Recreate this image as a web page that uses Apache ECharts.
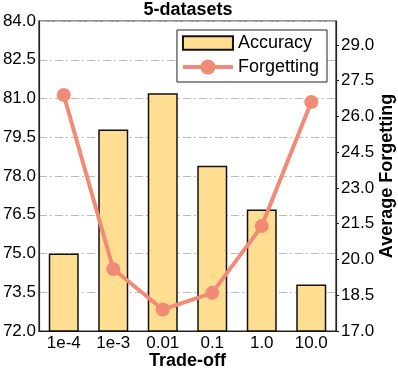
<!DOCTYPE html>
<html>
<head>
<meta charset="utf-8">
<script src="https://cdn.jsdelivr.net/npm/echarts@6/dist/echarts.min.js"></script>
<style>
  html, body { margin: 0; padding: 0; background: #fff; }
  #chart { width: 398px; height: 370px; }
</style>
</head>
<body>
<div id="chart"></div>
<script>
var categories = ['1e-4', '1e-3', '0.01', '0.1', '1.0', '10.0'];
var accuracy = [75.0, 79.8, 81.2, 78.4, 76.7, 73.8];
var forgetting = [26.9, 19.6, 17.9, 18.6, 21.4, 26.6];
var rightTicks = [17.0, 18.5, 20.0, 21.5, 23.0, 24.5, 26.0, 27.5, 29.0];

var font = 'Liberation Sans, Arial, sans-serif';

var option = {
	backgroundColor: '#fff',
	animation: false,
	title: {
		text: '5-datasets',
		left: 188,
		top: 1,
		textAlign: 'center',
		padding: 0,
		textStyle: { fontFamily: font, fontSize: 18, fontWeight: 'bold', color: '#000' },
	},
	legend: {
		orient: 'vertical',
		right: 71,
		top: 30,
		padding: [4, 8, 6, 4],
		itemGap: 6,
		itemWidth: 50,
		itemHeight: 19,
		borderColor: '#222',
		borderWidth: 1,
		borderRadius: 0,
		backgroundColor: '#fff',
		lineStyle: { width: 4 },
		textStyle: { fontFamily: font, fontSize: 18, color: '#000' },
		data: [
			{ name: 'Accuracy', icon: 'path://M0,0H48V13H0Z' },
			{ name: 'Forgetting' },
		],
	},
	grid: {
		left: 39,
		right: 62,
		top: 21,
		bottom: 39,
		outerBoundsMode: 'none',
		show: true,
		borderColor: '#222',
		borderWidth: 1.2,
		backgroundColor: 'transparent',
	},
	xAxis: {
		type: 'category',
		data: categories,
		name: 'Trade-off',
		nameLocation: 'middle',
		nameMoveOverlap: false,
		nameGap: 21,
		nameTextStyle: { fontFamily: font, fontSize: 18, fontWeight: 'bold', color: '#000' },
		axisLine: { lineStyle: { color: '#222', width: 1.2 } },
		axisTick: { show: false },
		axisLabel: { fontFamily: font, fontSize: 17, color: '#000', margin: 4 },
	},
	yAxis: [{
			type: 'value',
			min: 72,
			max: 84,
			interval: 1.5,
			axisLine: { show: true, lineStyle: { color: '#222', width: 1.2 } },
			axisTick: { show: false },
			axisLabel: {
				fontFamily: font, fontSize: 17, color: '#000', margin: 3,
				formatter: function (v) { return v.toFixed(1); },
			},
			splitLine: {
				show: true,
				lineStyle: { color: '#bdbdbd', width: 1, type: [8, 3, 2, 3] },
			},
		},
		{
			type: 'value',
			min: 17,
			max: 30,
			position: 'right',
			name: 'Average Forgetting',
			nameLocation: 'middle',
			nameMoveOverlap: false,
			nameRotate: 90,
			nameGap: 42,
			nameTextStyle: { fontFamily: font, fontSize: 18, fontWeight: 'bold', color: '#000' },
			axisLine: { show: true, lineStyle: { color: '#222', width: 1.2 } },
			axisTick: { show: true, length: 3, customValues: rightTicks, lineStyle: { color: '#222' } },
			axisLabel: {
				fontFamily: font, fontSize: 17, color: '#000', margin: 5,
				customValues: rightTicks,
				formatter: function (v) { return v.toFixed(1); },
			},
			splitLine: { show: false },
		},
	],
	series: [{
			name: 'Accuracy',
			type: 'bar',
			yAxisIndex: 0,
			barWidth: 30,
			data: accuracy,
			itemStyle: { color: '#FFDE91', borderColor: '#111', borderWidth: 1.5 },
		},
		{
			name: 'Forgetting',
			type: 'line',
			yAxisIndex: 1,
			data: forgetting,
			symbol: 'circle',
			symbolSize: 14,
			z: 5,
			lineStyle: { color: '#F28B76', width: 4 },
			itemStyle: { color: '#F28B76' },
		},
	],
};

var myChart = echarts.init(document.getElementById('chart'));
myChart.setOption(option);
</script>
</body>
</html>
